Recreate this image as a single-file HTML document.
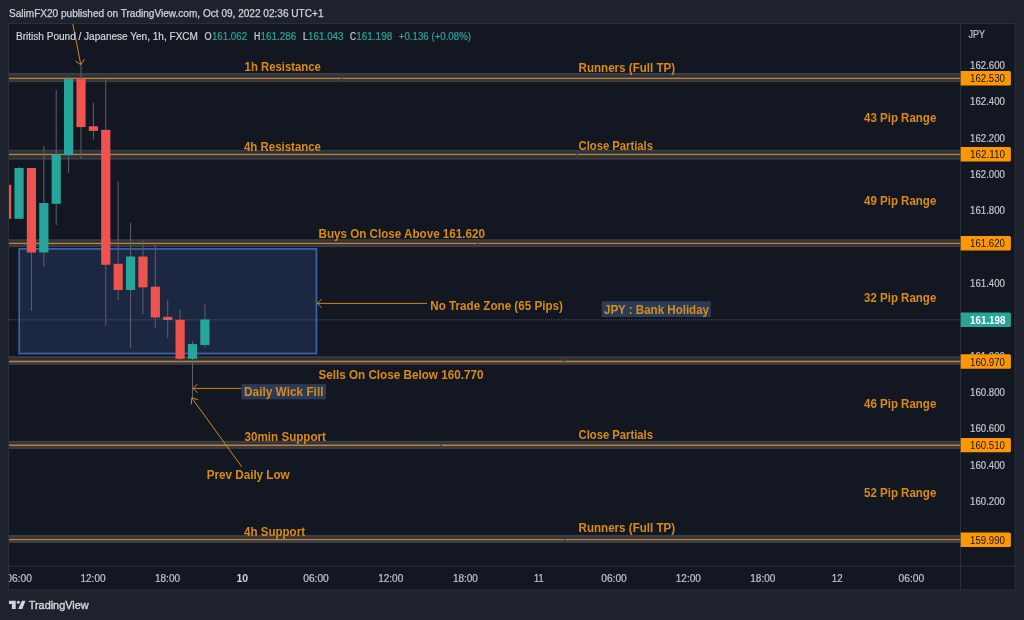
<!DOCTYPE html>
<html lang="en"><head><meta charset="utf-8"><title>GBPJPY 1h - TradingView</title>
<style>
html,body{margin:0;padding:0;background:#1e222d;}
body{width:1024px;height:620px;overflow:hidden;position:relative;font-family:"Liberation Sans", "DejaVu Sans", sans-serif;}
svg{position:absolute;left:0;top:0;display:block;}
text{font-family:"Liberation Sans", "DejaVu Sans", sans-serif;}
.lb{font-weight:700;font-size:12px;fill:#d98c10;}
.ax{font-size:10px;fill:#c1c4cc;stroke:#c1c4cc;stroke-width:0.2px;}
.axb{font-size:10px;font-weight:700;fill:#d1d4dc;}
.pl{font-size:10px;fill:#131722;}
.lg{font-size:10px;fill:#d1d4dc;stroke:#d1d4dc;stroke-width:0.2px;}
.lgv{font-size:10px;fill:#26a69a;stroke:#26a69a;stroke-width:0.2px;}
</style></head><body>
<svg width="1024" height="620" viewBox="0 0 1024 620">
<defs><clipPath id="pane"><rect x="9" y="24" width="951.5" height="542"/></clipPath><clipPath id="taxis"><rect x="9" y="566" width="951.5" height="24"/></clipPath></defs>
<rect x="0" y="0" width="1024" height="620" fill="#1e222d"/>
<rect x="8.5" y="23.5" width="1006.5" height="566.5" fill="#131722" stroke="#2a2e39" stroke-width="1"/>
<line x1="960.5" y1="24" x2="960.5" y2="590" stroke="#2a2e39" stroke-width="1"/>
<line x1="9" y1="566.3" x2="1015" y2="566.3" stroke="#2a2e39" stroke-width="1"/>
<text x="9" y="17.2" font-size="10.6" fill="#d1d4dc" stroke="#d1d4dc" stroke-width="0.25" textLength="314.5" lengthAdjust="spacingAndGlyphs">SalimFX20 published on TradingView.com, Oct 09, 2022 02:36 UTC+1</text>
<g clip-path="url(#pane)">
<rect x="9" y="72.90" width="952" height="9.20" fill="#3b3d43"/>
<rect x="9" y="75.30" width="952" height="5.20" fill="#2c303b"/>
<rect x="340.90" y="73.90" width="1.2" height="7.20" fill="#3b3d43"/>
<rect x="9" y="149.85" width="952" height="9.75" fill="#3b3d43"/>
<rect x="9" y="151.30" width="952" height="6.60" fill="#2c303b"/>
<rect x="576.40" y="150.85" width="1.2" height="7.75" fill="#3b3d43"/>
<rect x="9" y="239.20" width="952" height="7.90" fill="#3b3d43"/>
<rect x="9" y="240.95" width="952" height="4.35" fill="#2c303b"/>
<rect x="477.10" y="240.20" width="1.2" height="5.90" fill="#3b3d43"/>
<rect x="9" y="356.25" width="952" height="8.65" fill="#3b3d43"/>
<rect x="9" y="358.05" width="952" height="4.15" fill="#2c303b"/>
<rect x="563.80" y="357.25" width="1.2" height="6.65" fill="#3b3d43"/>
<rect x="9" y="440.85" width="952" height="8.05" fill="#3b3d43"/>
<rect x="9" y="442.95" width="952" height="4.15" fill="#2c303b"/>
<rect x="440.20" y="441.85" width="1.2" height="6.05" fill="#3b3d43"/>
<rect x="9" y="534.90" width="952" height="8.10" fill="#3b3d43"/>
<rect x="9" y="537.60" width="952" height="2.60" fill="#2c303b"/>
<rect x="564.00" y="535.90" width="1.2" height="6.10" fill="#3b3d43"/>
<rect x="19.25" y="248.9" width="297.2" height="104.6" fill="#1c2741" stroke="#3b64ad" stroke-width="1.7"/>
<rect x="9" y="77.70" width="952" height="1.40" fill="#bd8330"/>
<rect x="340.80" y="77.50" width="1.4" height="1.80" fill="#3b3d43"/>
<rect x="9" y="153.80" width="952" height="1.30" fill="#bd8330"/>
<rect x="576.30" y="153.60" width="1.4" height="1.70" fill="#3b3d43"/>
<rect x="9" y="242.70" width="952" height="1.40" fill="#bd8330"/>
<rect x="477.00" y="242.50" width="1.4" height="1.80" fill="#3b3d43"/>
<rect x="9" y="360.70" width="952" height="1.50" fill="#bd8330"/>
<rect x="563.70" y="360.50" width="1.4" height="1.90" fill="#3b3d43"/>
<rect x="9" y="444.50" width="952" height="1.60" fill="#bd8330"/>
<rect x="440.10" y="444.30" width="1.4" height="2.00" fill="#3b3d43"/>
<rect x="9" y="538.90" width="952" height="1.30" fill="#bd8330"/>
<rect x="563.90" y="538.70" width="1.4" height="1.70" fill="#3b3d43"/>
<line x1="9" y1="319.8" x2="961" y2="319.8" stroke="#26a69a" stroke-width="1" stroke-dasharray="1 1" opacity="0.55"/>
<rect x="2.05" y="184.80" width="9.20" height="34.00" fill="#ef5350"/>
<rect x="18.54" y="167.00" width="1" height="51.80" fill="#5d606b"/>
<rect x="14.44" y="168.00" width="9.20" height="50.80" fill="#26a69a"/>
<rect x="30.93" y="168.00" width="1" height="143.00" fill="#5d606b"/>
<rect x="26.83" y="168.00" width="9.20" height="84.50" fill="#ef5350"/>
<rect x="43.32" y="145.80" width="1" height="121.20" fill="#5d606b"/>
<rect x="39.22" y="203.00" width="9.20" height="49.50" fill="#26a69a"/>
<rect x="55.71" y="90.00" width="1" height="135.00" fill="#5d606b"/>
<rect x="51.61" y="154.40" width="9.20" height="49.40" fill="#26a69a"/>
<rect x="68.10" y="76.40" width="1" height="96.50" fill="#5d606b"/>
<rect x="64.00" y="79.10" width="9.20" height="76.10" fill="#26a69a"/>
<rect x="80.49" y="65.00" width="1" height="93.80" fill="#5d606b"/>
<rect x="76.39" y="79.10" width="9.20" height="48.00" fill="#ef5350"/>
<rect x="92.88" y="102.80" width="1" height="36.70" fill="#5d606b"/>
<rect x="88.78" y="126.30" width="9.20" height="4.60" fill="#ef5350"/>
<rect x="105.27" y="79.00" width="1" height="246.70" fill="#5d606b"/>
<rect x="101.17" y="129.90" width="9.20" height="134.90" fill="#ef5350"/>
<rect x="117.66" y="181.20" width="1" height="118.80" fill="#5d606b"/>
<rect x="113.56" y="263.80" width="9.20" height="26.20" fill="#ef5350"/>
<rect x="130.05" y="222.90" width="1" height="125.20" fill="#5d606b"/>
<rect x="125.95" y="256.50" width="9.20" height="33.50" fill="#26a69a"/>
<rect x="142.44" y="240.80" width="1" height="73.10" fill="#5d606b"/>
<rect x="138.34" y="256.50" width="9.20" height="30.90" fill="#ef5350"/>
<rect x="154.83" y="242.20" width="1" height="86.00" fill="#5d606b"/>
<rect x="150.73" y="286.70" width="9.20" height="30.80" fill="#ef5350"/>
<rect x="167.22" y="299.70" width="1" height="38.30" fill="#5d606b"/>
<rect x="163.12" y="316.90" width="9.20" height="3.10" fill="#ef5350"/>
<rect x="179.61" y="309.10" width="1" height="54.10" fill="#5d606b"/>
<rect x="175.51" y="319.80" width="9.20" height="39.00" fill="#ef5350"/>
<rect x="192.00" y="340.80" width="1" height="57.10" fill="#5d606b"/>
<rect x="187.90" y="344.10" width="9.20" height="14.70" fill="#26a69a"/>
<rect x="204.39" y="303.80" width="1" height="44.10" fill="#5d606b"/>
<rect x="200.29" y="319.50" width="9.20" height="25.50" fill="#26a69a"/>
<line x1="72.7" y1="23.4" x2="80.8" y2="64.7" stroke="#d98c10" stroke-width="0.95"/>
<polyline points="75.4,61.1 80.8,64.7 84.4,59.2" fill="none" stroke="#d98c10" stroke-width="0.95"/>
<line x1="427.0" y1="303.4" x2="317.2" y2="303.4" stroke="#d98c10" stroke-width="0.95"/>
<polyline points="321.8,299.2 317.2,303.4 321.8,307.6" fill="none" stroke="#d98c10" stroke-width="0.95"/>
<line x1="241.4" y1="388.4" x2="192.9" y2="388.4" stroke="#d98c10" stroke-width="0.95"/>
<polyline points="197.5,384.2 192.9,388.4 197.5,392.6" fill="none" stroke="#d98c10" stroke-width="0.95"/>
<line x1="241.7" y1="466.7" x2="191.8" y2="397.9" stroke="#d98c10" stroke-width="0.95"/>
<polyline points="191.3,404.3 191.8,397.9 198.0,399.6" fill="none" stroke="#d98c10" stroke-width="0.95"/>
<rect x="241.4" y="384.1" width="84.6" height="15.3" fill="#2a3a5b"/>
<rect x="601.7" y="301.2" width="109.2" height="15.8" fill="#2a3a5b"/>
<text class="lb" x="244.6" y="71.1" textLength="76.2" lengthAdjust="spacingAndGlyphs">1h Resistance</text>
<text class="lb" x="244.0" y="151.2" textLength="77.0" lengthAdjust="spacingAndGlyphs">4h Resistance</text>
<text class="lb" x="578.6" y="71.6" textLength="96.5" lengthAdjust="spacingAndGlyphs">Runners (Full TP)</text>
<text class="lb" x="578.6" y="149.8" textLength="74.4" lengthAdjust="spacingAndGlyphs">Close Partials</text>
<text class="lb" x="318.5" y="237.9" textLength="166.4" lengthAdjust="spacingAndGlyphs">Buys On Close Above 161.620</text>
<text class="lb" x="430.3" y="309.5" textLength="132.6" lengthAdjust="spacingAndGlyphs">No Trade Zone (65 Pips)</text>
<text class="lb" x="604.0" y="313.7" textLength="105.0" lengthAdjust="spacingAndGlyphs">JPY : Bank Holiday</text>
<text class="lb" x="318.4" y="379.2" textLength="165.0" lengthAdjust="spacingAndGlyphs">Sells On Close Below 160.770</text>
<text class="lb" x="244.0" y="396.0" textLength="79.5" lengthAdjust="spacingAndGlyphs">Daily Wick Fill</text>
<text class="lb" x="244.5" y="441.4" textLength="81.5" lengthAdjust="spacingAndGlyphs">30min Support</text>
<text class="lb" x="206.7" y="478.9" textLength="83.0" lengthAdjust="spacingAndGlyphs">Prev Daily Low</text>
<text class="lb" x="244.0" y="536.0" textLength="61.0" lengthAdjust="spacingAndGlyphs">4h Support</text>
<text class="lb" x="578.6" y="439.2" textLength="74.4" lengthAdjust="spacingAndGlyphs">Close Partials</text>
<text class="lb" x="578.6" y="531.9" textLength="96.5" lengthAdjust="spacingAndGlyphs">Runners (Full TP)</text>
<text class="lb" x="864.0" y="121.6" textLength="72.3" lengthAdjust="spacingAndGlyphs">43 Pip Range</text>
<text class="lb" x="864.0" y="204.5" textLength="72.3" lengthAdjust="spacingAndGlyphs">49 Pip Range</text>
<text class="lb" x="864.0" y="301.6" textLength="72.3" lengthAdjust="spacingAndGlyphs">32 Pip Range</text>
<text class="lb" x="864.0" y="407.9" textLength="72.3" lengthAdjust="spacingAndGlyphs">46 Pip Range</text>
<text class="lb" x="864.0" y="497.3" textLength="72.3" lengthAdjust="spacingAndGlyphs">52 Pip Range</text>
<text class="lg" x="16.0" y="40.3" textLength="182.0" lengthAdjust="spacingAndGlyphs">British Pound / Japanese Yen, 1h, FXCM</text>
<text class="lg" x="204.6" y="40.3" textLength="7.1" lengthAdjust="spacingAndGlyphs">O</text>
<text class="lgv" x="211.9" y="40.3" textLength="35.2" lengthAdjust="spacingAndGlyphs">161.062</text>
<text class="lg" x="254.0" y="40.3" textLength="6.3" lengthAdjust="spacingAndGlyphs">H</text>
<text class="lgv" x="260.5" y="40.3" textLength="35.7" lengthAdjust="spacingAndGlyphs">161.286</text>
<text class="lg" x="303.1" y="40.3" textLength="4.8" lengthAdjust="spacingAndGlyphs">L</text>
<text class="lgv" x="308.1" y="40.3" textLength="35.4" lengthAdjust="spacingAndGlyphs">161.043</text>
<text class="lg" x="350.0" y="40.3" textLength="6.0" lengthAdjust="spacingAndGlyphs">C</text>
<text class="lgv" x="356.2" y="40.3" textLength="36.1" lengthAdjust="spacingAndGlyphs">161.198</text>
<text class="lgv" x="398.8" y="40.3" textLength="72.2" lengthAdjust="spacingAndGlyphs">+0.136 (+0.08%)</text>
</g>
<text class="ax" x="968.5" y="38.3" textLength="16.5" lengthAdjust="spacingAndGlyphs">JPY</text>
<text class="ax" x="970" y="69.0" textLength="35" lengthAdjust="spacingAndGlyphs">162.600</text>
<text class="ax" x="970" y="105.3" textLength="35" lengthAdjust="spacingAndGlyphs">162.400</text>
<text class="ax" x="970" y="141.7" textLength="35" lengthAdjust="spacingAndGlyphs">162.200</text>
<text class="ax" x="970" y="178.0" textLength="35" lengthAdjust="spacingAndGlyphs">162.000</text>
<text class="ax" x="970" y="214.3" textLength="35" lengthAdjust="spacingAndGlyphs">161.800</text>
<text class="ax" x="970" y="287.0" textLength="35" lengthAdjust="spacingAndGlyphs">161.400</text>
<text class="ax" x="970" y="359.7" textLength="35" lengthAdjust="spacingAndGlyphs">161.000</text>
<text class="ax" x="970" y="396.0" textLength="35" lengthAdjust="spacingAndGlyphs">160.800</text>
<text class="ax" x="970" y="432.3" textLength="35" lengthAdjust="spacingAndGlyphs">160.600</text>
<text class="ax" x="970" y="468.7" textLength="35" lengthAdjust="spacingAndGlyphs">160.400</text>
<text class="ax" x="970" y="505.0" textLength="35" lengthAdjust="spacingAndGlyphs">160.200</text>
<path d="M960.7 71.1H1009.4a1.5 1.5 0 0 1 1.5 1.5V84.0a1.5 1.5 0 0 1 -1.5 1.5H960.7Z" fill="#ff9800"/>
<text class="pl" x="970" y="82.4" textLength="35" lengthAdjust="spacingAndGlyphs">162.530</text>
<path d="M960.7 147.0H1009.4a1.5 1.5 0 0 1 1.5 1.5V159.9a1.5 1.5 0 0 1 -1.5 1.5H960.7Z" fill="#ff9800"/>
<text class="pl" x="970" y="158.3" textLength="35" lengthAdjust="spacingAndGlyphs">162.110</text>
<path d="M960.7 236.1H1009.4a1.5 1.5 0 0 1 1.5 1.5V249.0a1.5 1.5 0 0 1 -1.5 1.5H960.7Z" fill="#ff9800"/>
<text class="pl" x="970" y="247.4" textLength="35" lengthAdjust="spacingAndGlyphs">161.620</text>
<path d="M960.7 354.3H1009.4a1.5 1.5 0 0 1 1.5 1.5V367.2a1.5 1.5 0 0 1 -1.5 1.5H960.7Z" fill="#ff9800"/>
<text class="pl" x="970" y="365.6" textLength="35" lengthAdjust="spacingAndGlyphs">160.970</text>
<path d="M960.7 437.9H1009.4a1.5 1.5 0 0 1 1.5 1.5V450.8a1.5 1.5 0 0 1 -1.5 1.5H960.7Z" fill="#ff9800"/>
<text class="pl" x="970" y="449.2" textLength="35" lengthAdjust="spacingAndGlyphs">160.510</text>
<path d="M960.7 532.5H1009.4a1.5 1.5 0 0 1 1.5 1.5V545.4a1.5 1.5 0 0 1 -1.5 1.5H960.7Z" fill="#ff9800"/>
<text class="pl" x="970" y="543.8" textLength="35" lengthAdjust="spacingAndGlyphs">159.990</text>
<path d="M960.7 312.4H1009.4a1.5 1.5 0 0 1 1.5 1.5V325.5a1.5 1.5 0 0 1 -1.5 1.5H960.7Z" fill="#26a69a"/>
<text x="970" y="323.8" font-size="10" font-weight="700" fill="#ffffff" textLength="35.5" lengthAdjust="spacingAndGlyphs">161.198</text>
<g clip-path="url(#taxis)">
<text class="ax" x="6.3" y="581.7" textLength="25.6" lengthAdjust="spacingAndGlyphs">06:00</text>
<text class="ax" x="80.5" y="581.7" textLength="25.0" lengthAdjust="spacingAndGlyphs">12:00</text>
<text class="ax" x="155.0" y="581.7" textLength="25.0" lengthAdjust="spacingAndGlyphs">18:00</text>
<text class="axb" x="236.4" y="581.7" textLength="11.6" lengthAdjust="spacingAndGlyphs">10</text>
<text class="ax" x="303.2" y="581.7" textLength="25.6" lengthAdjust="spacingAndGlyphs">06:00</text>
<text class="ax" x="378.2" y="581.7" textLength="25.0" lengthAdjust="spacingAndGlyphs">12:00</text>
<text class="ax" x="452.9" y="581.7" textLength="25.0" lengthAdjust="spacingAndGlyphs">18:00</text>
<text class="ax" x="534.0" y="581.7" textLength="9.6" lengthAdjust="spacingAndGlyphs">11</text>
<text class="ax" x="601.2" y="581.7" textLength="25.6" lengthAdjust="spacingAndGlyphs">06:00</text>
<text class="ax" x="675.8" y="581.7" textLength="25.0" lengthAdjust="spacingAndGlyphs">12:00</text>
<text class="ax" x="750.3" y="581.7" textLength="25.0" lengthAdjust="spacingAndGlyphs">18:00</text>
<text class="ax" x="831.8" y="581.7" textLength="10.8" lengthAdjust="spacingAndGlyphs">12</text>
<text class="ax" x="898.6" y="581.7" textLength="25.6" lengthAdjust="spacingAndGlyphs">06:00</text>
</g>
<g fill="#d1d4dc">
<path d="M8.95 600.7H15.7V608.9H11.9V603.9H8.95Z"/>
<circle cx="18.3" cy="602.3" r="1.5"/>
<path d="M21.85 600.7H25.5L22.3 608.9H18.3Z"/>
</g>
<text x="28.7" y="608.8" font-size="10.6" fill="#d1d4dc" stroke="#d1d4dc" stroke-width="0.4" textLength="60" lengthAdjust="spacingAndGlyphs">TradingView</text>
</svg>
</body></html>
